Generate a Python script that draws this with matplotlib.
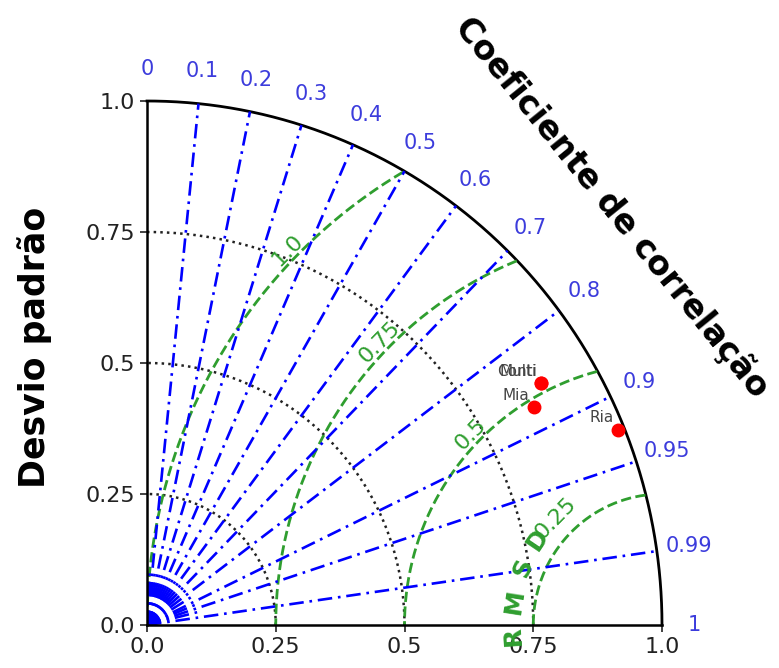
import numpy as np
import matplotlib.pyplot as plt

# model statistics (normalised std, correlation)
MODELS = ["Multi", "Conti", "Mia", "Ria"]
STD = [0.894, 0.894, 0.858, 0.988]
COR = [0.856, 0.856, 0.875, 0.926]
REF_STD = 1.0

COR_LABELS = [0, 0.1, 0.2, 0.3, 0.4, 0.5, 0.6, 0.7, 0.8, 0.9, 0.95, 0.99, 1]
COR_LINES = [0.1, 0.2, 0.3, 0.4, 0.5, 0.6, 0.7, 0.8, 0.9, 0.95, 0.99]
FINE_COR = [0.05, 0.15, 0.25, 0.35, 0.45, 0.55, 0.65, 0.75, 0.85, 0.925, 0.97]
STD_ARCS = [0.25, 0.5, 0.75]
RMS_ARCS = [0.25, 0.5, 0.75, 1.0]
RMS_LABELS = ["0.25", "0.5", "0.75", "1.0"]
STD_TICKS = [0, 0.25, 0.5, 0.75, 1.0]
STD_TICK_LABELS = ["0.0", "0.25", "0.5", "0.75", "1.0"]

BLUE = "blue"
LBLUE = "#3c3cdc"
GREEN = "#2f9e2f"

fig = plt.figure(figsize=(7.79, 6.68), dpi=100)
ax = fig.add_axes([147 / 779, 43 / 668, 515 / 779, 524 / 668])
ax.set_xlim(0, 1)
ax.set_ylim(0, 1)
for s in ["top", "right"]:
    ax.spines[s].set_visible(False)
for s in ["left", "bottom"]:
    ax.spines[s].set_linewidth(1.8)

ax.set_xticks(STD_TICKS)
ax.set_xticklabels(STD_TICK_LABELS)
ax.set_yticks(STD_TICKS)
ax.set_yticklabels(STD_TICK_LABELS)
ax.tick_params(labelsize=16, colors="#222222", length=5, width=1.2)

# outer arc
th = np.linspace(0, np.pi / 2, 300)
ax.plot(np.cos(th), np.sin(th), color="black", lw=2.0, clip_on=False)

# std arcs
for r in STD_ARCS:
    ax.plot(r * np.cos(th), r * np.sin(th), ":", color="#222222", lw=1.8)

# rmsd arcs around reference point
phi = np.linspace(0, np.pi, 600)
for r, lab in zip(RMS_ARCS, RMS_LABELS):
    x = REF_STD + r * np.cos(phi)
    y = r * np.sin(phi)
    mask = np.hypot(x, y) <= 1.0
    ax.plot(x[mask], y[mask], "--", color=GREEN, lw=2.0)
    a = np.deg2rad(135.5)
    d = r + (0.04 if r < 0.3 else 0.02)
    ax.text(REF_STD + d * np.cos(a), d * np.sin(a), lab, color=GREEN,
            fontsize=16, rotation=45.5, ha="center", va="center",
            rotation_mode="anchor")

# RMSD title along the smallest arc
for letter, ang in zip("RMSD", [184, 171, 158, 146]):
    a = np.deg2rad(ang)
    ax.text(REF_STD + 0.29 * np.cos(a), 0.29 * np.sin(a), letter,
            color=GREEN, fontsize=18, fontweight="bold", rotation=ang - 90,
            ha="center", va="center", rotation_mode="anchor", clip_on=False)

# correlation lines
dashdot = (0, (5.5, 2.2, 1, 2.2))
for c in COR_LINES:
    t = np.arccos(c)
    ax.plot([0, np.cos(t)], [0, np.sin(t)], color=BLUE, lw=1.9, ls=dashdot)
for c in FINE_COR:
    t = np.arccos(c)
    ax.plot([0, 0.11 * np.cos(t)], [0, 0.11 * np.sin(t)], color=BLUE,
            lw=1.9, ls=dashdot)

for c in COR_LABELS:
    t = np.arccos(c)
    ax.text(1.062 * np.cos(t), 1.062 * np.sin(t), f"{c:g}", color=LBLUE,
            fontsize=15, ha="center", va="center", clip_on=False)

# model points
for name, s, c in zip(MODELS, STD, COR):
    px, py = s * c, s * np.sin(np.arccos(c))
    ax.plot(px, py, "o", color="red", ms=9, zorder=5)
    ax.annotate(name, (px, py), xytext=(-3, 3), textcoords="offset points",
                ha="right", va="bottom", fontsize=11, color="#444444")

fig.text(0.045, 0.48, "Desvio padrão", rotation=90, fontsize=25,
         fontweight="bold", ha="center", va="center")
fig.text(0.786, 0.69, "Coeficiente de correlação", rotation=-51, fontsize=24,
         fontweight="bold", ha="center", va="center", rotation_mode="anchor")

fig.savefig("out.png", dpi=100)
